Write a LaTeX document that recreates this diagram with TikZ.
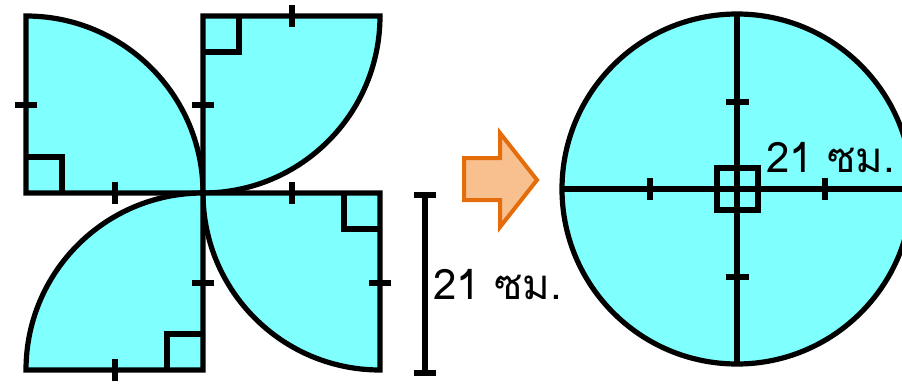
\documentclass[tikz,border=0pt]{standalone}
\usepackage{fontspec}
\newfontfamily\thaifont[Script=Thai]{Loma}
\usepackage{tikz}
\usetikzlibrary{calc}
\definecolor{sheet}{RGB}{128,255,255}
\definecolor{arrowfill}{RGB}{249,192,143}
\definecolor{arroworange}{RGB}{228,108,10}

\begin{document}
\begin{tikzpicture}[x = 1pt, y = -1pt,
                    edge/.style = {draw, line width = 5.2pt},
                    piece/.style = {edge, fill = sheet},
                    label text/.style = {font = \thaifont\fontsize{42}{42}\selectfont, inner sep = 0pt}]
                \useasboundingbox(0,0)rectangle(902,383);
                \clip(0,0)rectangle(902,383);
                % quarter circles
                \coordinate(O)at(203,193);
                \path[piece](26,16)arc[start angle = -90, end angle = 0, radius = 177]--(26,193)--cycle;
                \path[piece](203,16)--(380,16)arc[start angle = 0, end angle = 90, radius = 177]--cycle;
                \path[piece](O)--(380,193)--(380,370)arc[start angle = 90, end angle = 180, radius = 177]--cycle;
                \path[piece](O)--(203,370)--(26,370)arc[start angle = 180, end angle = 270, radius = 177]--cycle;
                % right angles
                \path[edge](26,157)--(62,157)--(62,193);
                \path[edge](203,52)--(239,52)--(239,16);
                \path[edge](344,193)--(344,229)--(380,229);
                \path[edge](167,370)--(167,334)--(203,334);
                % ticks
                \foreach \x/\y in {26/105, 203/105, 203/283, 380/283}{
                    \path[edge](\x-11,\y)--(\x+11,\y);
                }
                \foreach \x/\y in {115/193, 292/16, 292/193, 115/370}{
                    \path[edge](\x,\y-11)--(\x,\y+11);
                }
                % size bar
                \coordinate(T)at(425,195);
                \coordinate(B)at(425,373);
                \path[edge](T)--(B);
                \path[edge]($(T)+(-11,0)$)--($(T)+(11,0)$);
                \path[edge]($(B)+(-11,0)$)--($(B)+(11,0)$);
                \node[label text](L1)at(498,285){21 ซม.};
                % arrow
                \path[draw = arroworange, fill = arrowfill, line width = 4pt]
                    (464,158)--(500,158)--(500,133)--(537,180)--(500,227)--(500,200)--(464,200)--cycle;
                % circle
                \coordinate(M)at(737,189);
                \path[piece](M)circle(175);
                \path[edge](562,189)--(912,189);
                \path[edge](737,14)--(737,364);
                \path[edge](717,168)rectangle(758,210);
                \path[edge](726,102)--(749,102);
                \path[edge](726,277)--(749,277);
                \path[edge](650,178)--(650,200);
                \path[edge](825,178)--(825,200);
                \node[label text](L2)at(831,158){21 ซม.};
            \end{tikzpicture}
\end{document}
